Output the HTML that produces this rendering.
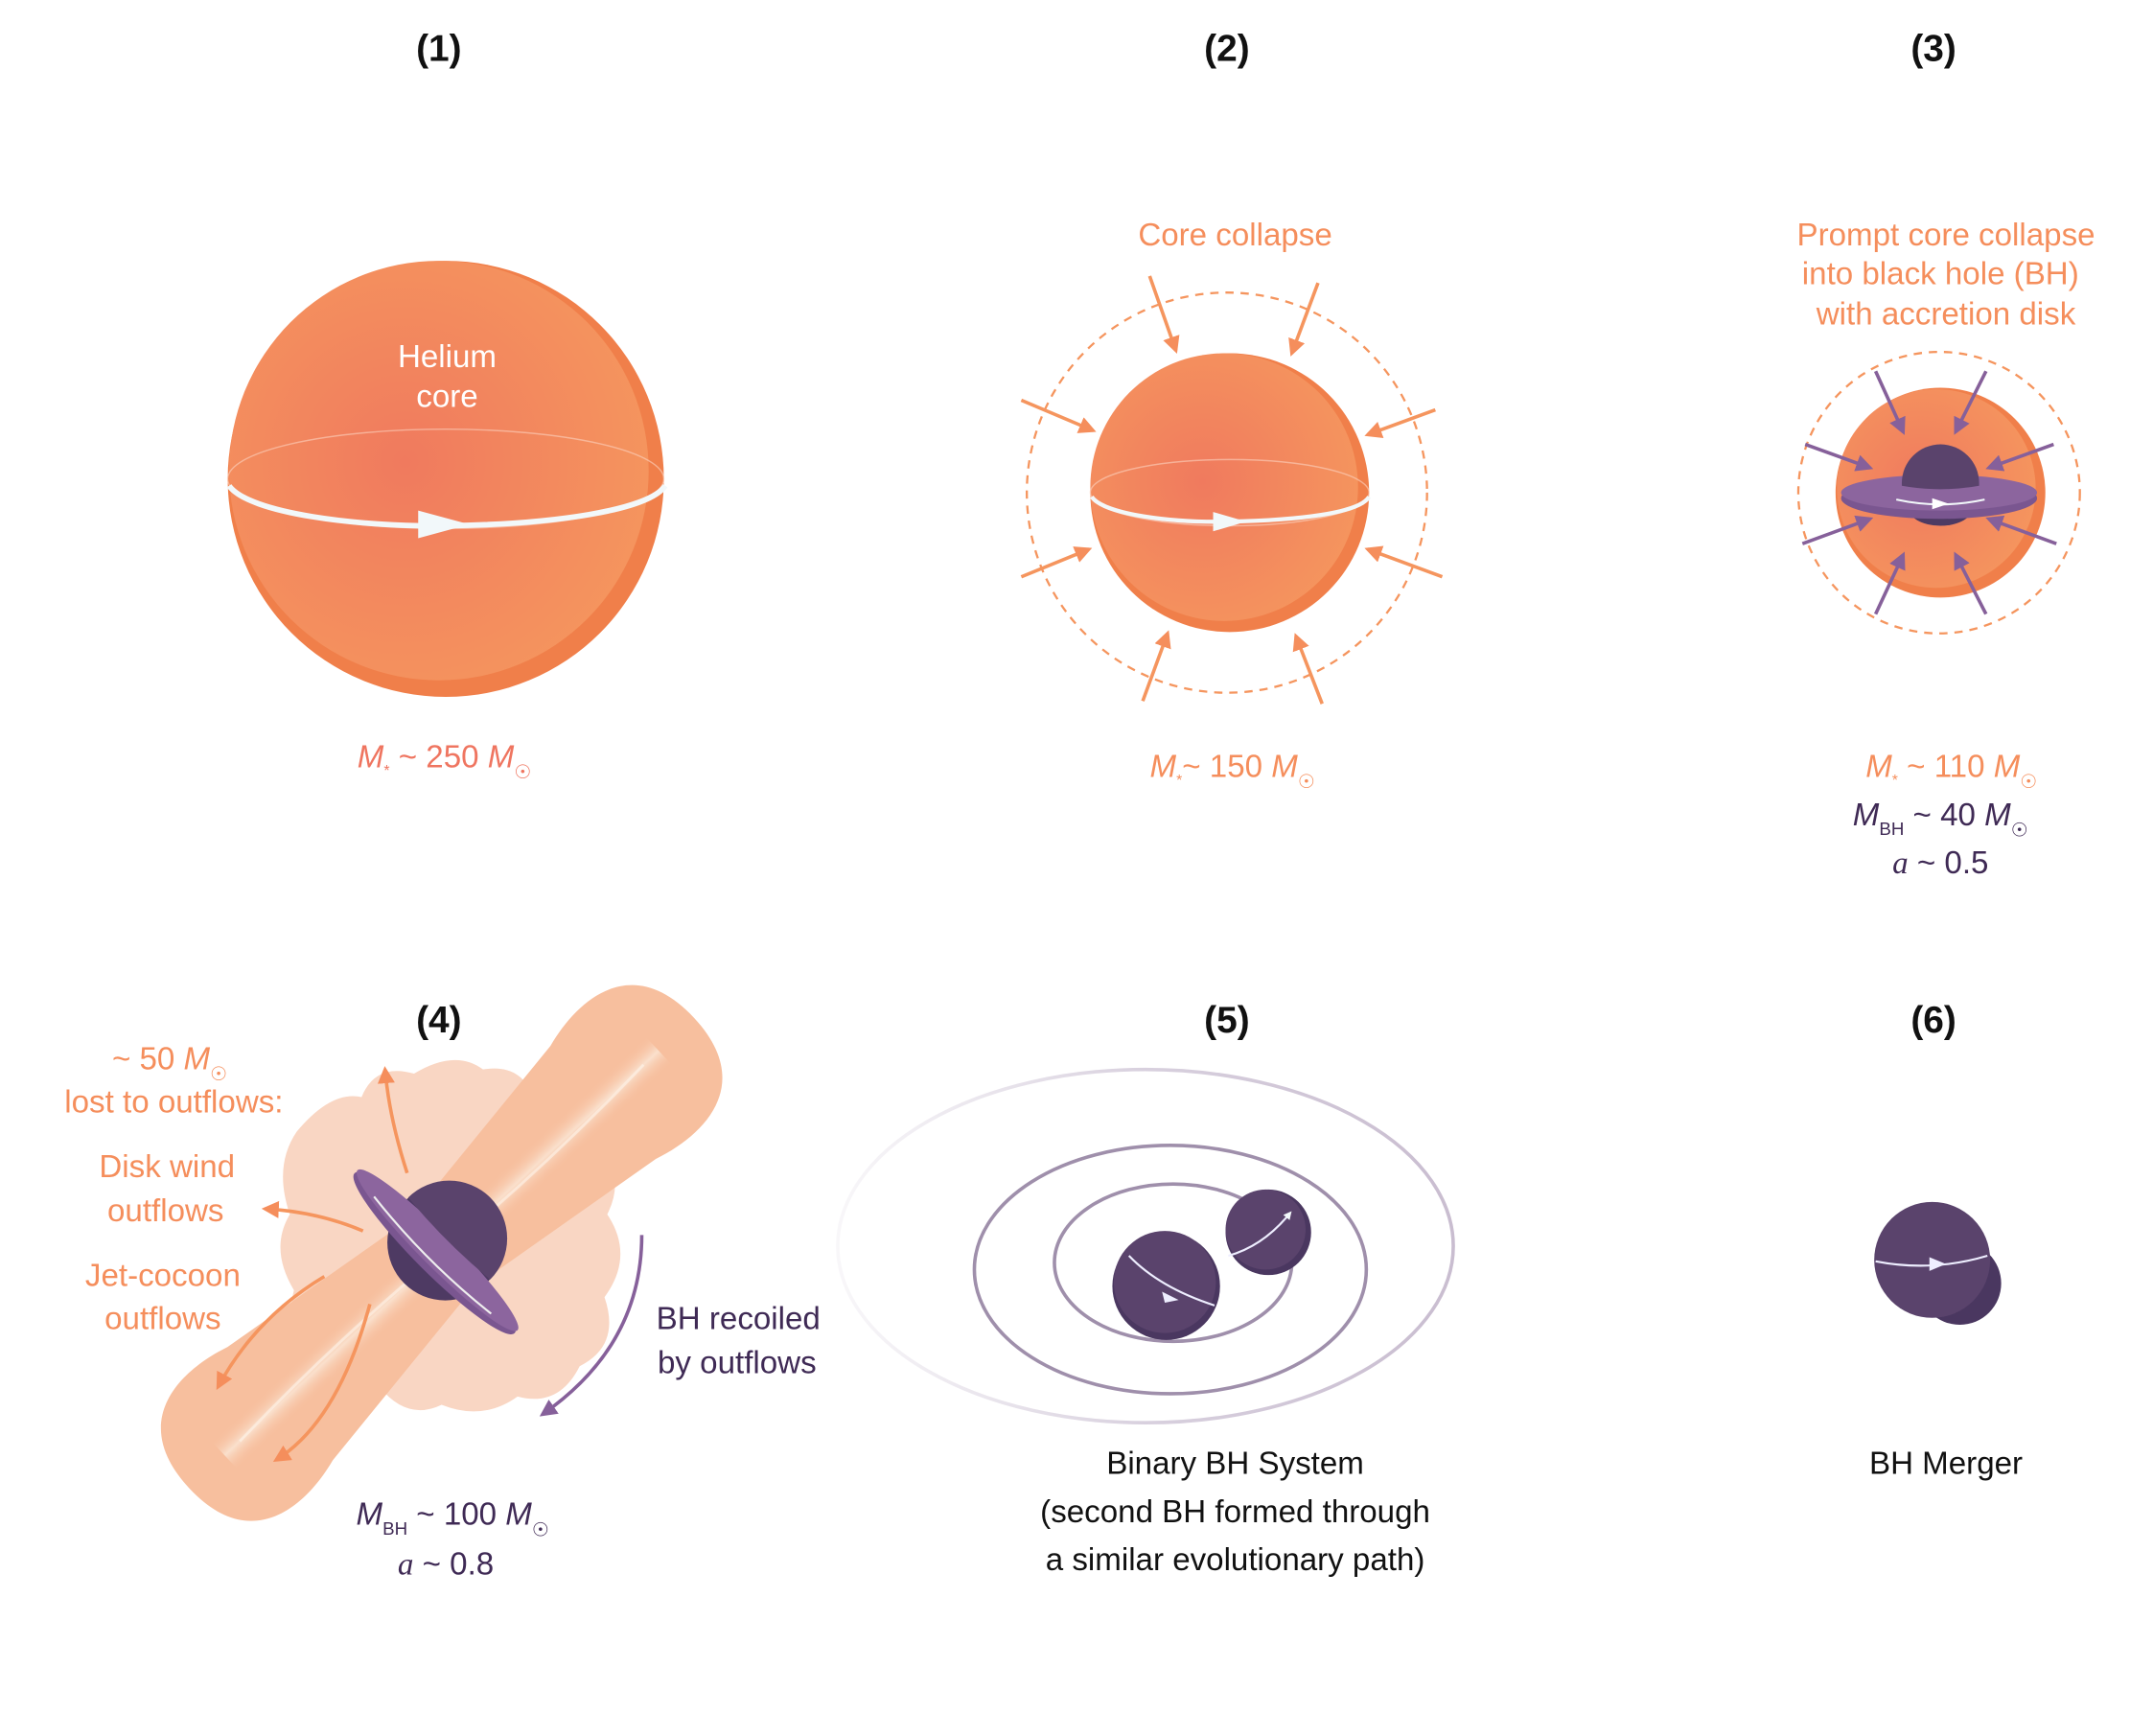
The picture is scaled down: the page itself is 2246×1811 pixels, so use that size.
<!DOCTYPE html>
<html><head><meta charset="utf-8"><style>
html,body{margin:0;padding:0;background:#fff;}
svg{display:block;}
text{font-family:"Liberation Sans",sans-serif;}
</style></head><body>
<svg width="2246" height="1811" viewBox="0 0 1560 1258" preserveAspectRatio="none" xmlns="http://www.w3.org/2000/svg">
<defs>
<radialGradient id="sg" cx="0.42" cy="0.48" r="0.6">
<stop offset="0" stop-color="#f07a5e"/><stop offset="1" stop-color="#f5955e"/></radialGradient>
<marker id="ao" viewBox="0 0 10 10" refX="8" refY="5" markerWidth="5" markerHeight="5" orient="auto"><path d="M0,0L10,5L0,10z" fill="#f58e5c"/></marker>
<marker id="ap" viewBox="0 0 10 10" refX="8" refY="5" markerWidth="5" markerHeight="5" orient="auto"><path d="M0,0L10,5L0,10z" fill="#86609a"/></marker>
<marker id="aw" viewBox="0 0 10 10" refX="5" refY="5" markerWidth="4" markerHeight="4" orient="auto"><path d="M0,0L10,5L0,10z" fill="#f2f8fa"/></marker>
<linearGradient id="og" x1="0" y1="0" x2="1" y2="0"><stop offset="0" stop-color="#ddd6e2" stop-opacity="0.2"/><stop offset="0.5" stop-color="#d8d0de"/><stop offset="1" stop-color="#c9bdd0"/></linearGradient>
<linearGradient id="jg" x1="0" y1="0" x2="0" y2="1"><stop offset="0" stop-color="#f7bf9e" stop-opacity="0"/><stop offset="0.5" stop-color="#fbeee0"/><stop offset="1" stop-color="#f7bf9e" stop-opacity="0"/></linearGradient>
</defs>

<g font-weight="bold" font-size="27" text-anchor="middle" fill="#111">
<text x="318" y="44">(1)</text><text x="889" y="44">(2)</text><text x="1401" y="44">(3)</text>
<text x="318" y="748">(4)</text><text x="889" y="748">(5)</text><text x="1401" y="748">(6)</text>
</g>

<!-- (1) -->
<circle cx="323" cy="347" r="158" fill="#f07f4a"/>
<circle cx="318" cy="341" r="152" fill="url(#sg)"/>
<ellipse cx="323" cy="347" rx="158" ry="36" fill="none" stroke="#fbd2c0" stroke-width="1" opacity="0.6"/>
<path d="M166,352 C180,372 260,382 323,381 C400,380 470,370 482,352" fill="none" stroke="#f2f8fa" stroke-width="4"/>
<path d="M303,370 L340,380 L303,390z" fill="#f2f8fa"/>
<text x="324" y="266" font-size="23" fill="#fff" text-anchor="middle">Helium</text>
<text x="324" y="295" font-size="23" fill="#fff" text-anchor="middle">core</text>
<text x="322" y="556" font-size="23" fill="#ef7560" text-anchor="middle"><tspan font-style="italic">M</tspan><tspan font-size="11" dy="6">*</tspan><tspan dy="-6"> ~ 250 </tspan><tspan font-style="italic">M</tspan><tspan font-size="14" dy="8">☉</tspan></text>

<!-- (2) -->
<circle cx="889" cy="357" r="145" fill="none" stroke="#f5955e" stroke-width="1.6" stroke-dasharray="6,5"/>
<circle cx="891" cy="357" r="101" fill="#f07f4a"/>
<circle cx="887" cy="353" r="97" fill="url(#sg)"/>
<ellipse cx="891" cy="357" rx="101" ry="24" fill="none" stroke="#fbd2c0" stroke-width="1" opacity="0.6"/>
<path d="M791,360 C800,373 850,379 891,378 C940,377 985,372 992,360" fill="none" stroke="#f2f8fa" stroke-width="3"/>
<path d="M879,371 L903,378 L879,385z" fill="#f2f8fa"/>
<g stroke="#f5955e" stroke-width="2.5" marker-end="url(#ao)" fill="none">
<line x1="833" y1="200" x2="852" y2="254"/><line x1="955" y1="205" x2="936" y2="256"/>
<line x1="740" y1="290" x2="792" y2="312"/><line x1="1040" y1="297" x2="991" y2="315"/>
<line x1="740" y1="418" x2="789" y2="398"/><line x1="1045" y1="418" x2="991" y2="398"/>
<line x1="828" y1="508" x2="846" y2="459"/><line x1="958" y1="510" x2="939" y2="461"/>
</g>
<text x="895" y="178" font-size="23" fill="#f58e5c" text-anchor="middle">Core collapse</text>
<text x="893" y="563" font-size="23" fill="#f58e5c" text-anchor="middle"><tspan font-style="italic">M</tspan><tspan font-size="11" dy="6">*</tspan><tspan dy="-6">~ 150 </tspan><tspan font-style="italic">M</tspan><tspan font-size="14" dy="8">☉</tspan></text>

<!-- (3) -->
<circle cx="1405" cy="357" r="102" fill="none" stroke="#f5955e" stroke-width="1.6" stroke-dasharray="6,5"/>
<circle cx="1406" cy="357" r="76" fill="#f07f4a"/>
<circle cx="1403" cy="354" r="72" fill="url(#sg)"/>
<ellipse cx="1406" cy="367" rx="24" ry="14" fill="#4e3a63"/>
<ellipse cx="1405" cy="361" rx="71" ry="15" fill="#7a5690"/>
<ellipse cx="1405" cy="357" rx="71" ry="13" fill="#8c659e"/>
<path d="M1378,350 A28,28 0 0 1 1434,350 L1434,352 Q1406,357 1378,352z" fill="#5a436c"/>
<path d="M1374,362 Q1406,369 1438,362" fill="none" stroke="#f2f8fa" stroke-width="1.5"/>
<path d="M1400,361 L1412,365 L1400,369z" fill="#fff"/>
<g stroke="#86609a" stroke-width="2.5" marker-end="url(#ap)" fill="none">
<line x1="1359" y1="269" x2="1379" y2="313"/><line x1="1439" y1="269" x2="1417" y2="313"/>
<line x1="1308" y1="322" x2="1355" y2="339"/><line x1="1488" y1="322" x2="1441" y2="339"/>
<line x1="1306" y1="394" x2="1355" y2="376"/><line x1="1490" y1="394" x2="1441" y2="376"/>
<line x1="1359" y1="445" x2="1379" y2="402"/><line x1="1439" y1="445" x2="1417" y2="402"/>
</g>
<g font-size="23" fill="#f58e5c" text-anchor="middle">
<text x="1410" y="178">Prompt core collapse</text><text x="1406" y="206">into black hole (BH)</text><text x="1410" y="235">with accretion disk</text>
<text x="1414" y="563"><tspan font-style="italic">M</tspan><tspan font-size="11" dy="6">*</tspan><tspan dy="-6"> ~ 110 </tspan><tspan font-style="italic">M</tspan><tspan font-size="14" dy="8">☉</tspan></text>
</g>
<g font-size="23" fill="#3f2a55" text-anchor="middle">
<text x="1406" y="598"><tspan font-style="italic">M</tspan><tspan font-size="13" dy="7">BH</tspan><tspan dy="-7"> ~ 40 </tspan><tspan font-style="italic">M</tspan><tspan font-size="14" dy="8">☉</tspan></text>
<text x="1406" y="633"><tspan font-style="italic" font-family="Liberation Serif">a</tspan> ~ 0.5</text>
</g>

<!-- (4) -->
<path d="M215,820 Q240,790 262,795 Q272,770 300,778 Q330,760 350,775 Q380,770 388,800 Q420,800 430,830 Q455,850 440,880 Q460,910 438,940 Q450,975 420,990 Q405,1020 375,1012 Q350,1030 320,1018 Q295,1030 275,1005 Q245,1005 235,980 Q205,965 213,935 Q195,905 210,880 Q198,845 215,820z" fill="#f9d6c3"/>
<g transform="translate(320,908) rotate(-43)">
<path d="M-250,0 C-250,-64 -200,-68 -160,-56 L0,-34 L160,-56 C200,-68 250,-64 250,0 C250,64 200,68 160,56 L0,34 L-160,56 C-200,68 -250,64 -250,0z" fill="#f7bf9e"/>
<rect x="-215" y="-14" width="430" height="28" fill="url(#jg)" opacity="0.7"/>
<path d="M-200,0 Q-100,-6 0,0 Q100,6 200,0" stroke="#fdf4ea" stroke-width="2" fill="none" opacity="0.6"/>
</g>
<g stroke="#f5955e" stroke-width="2.5" fill="none" marker-end="url(#ao)">
<path d="M295,850 Q282,810 279,775"/>
<path d="M263,892 Q230,878 192,876"/>
<path d="M235,925 Q185,955 158,1005"/>
<path d="M268,945 Q245,1030 200,1058"/>
</g>
<g transform="translate(317,906) rotate(45)">
<circle cx="0" cy="-8" r="42" fill="#4e3a63"/>
<ellipse cx="0" cy="3" rx="82" ry="14" fill="#7a5690"/>
<ellipse cx="0" cy="0" rx="82" ry="12" fill="#8c659e"/>
<path d="M-42,-6 A42,42 0 0 1 42,-6 Q0,-2 -42,-6Z" fill="#5a436c" transform="translate(0,-6)"/>
<path d="M-60,5 Q0,12 60,5" fill="none" stroke="#eee" stroke-width="1.5"/>
</g>
<path d="M465,895 Q465,975 393,1025" stroke="#86609a" stroke-width="2.5" fill="none" marker-end="url(#ap)"/>
<g font-size="23" fill="#f58e5c" text-anchor="middle">
<text x="123" y="775">~ 50 <tspan font-style="italic">M</tspan><tspan font-size="14" dy="8">☉</tspan></text>
<text x="126" y="806">lost to outflows:</text>
<text x="121" y="853">Disk wind</text><text x="120" y="885">outflows</text>
<text x="118" y="932">Jet-cocoon</text><text x="118" y="963">outflows</text>
</g>
<g font-size="23" fill="#3f2a55" text-anchor="middle">
<text x="535" y="963">BH recoiled</text><text x="534" y="995">by outflows</text>
<text x="328" y="1105"><tspan font-style="italic">M</tspan><tspan font-size="13" dy="7">BH</tspan><tspan dy="-7"> ~ 100 </tspan><tspan font-style="italic">M</tspan><tspan font-size="14" dy="8">☉</tspan></text>
<text x="323" y="1141"><tspan font-style="italic" font-family="Liberation Serif">a</tspan> ~ 0.8</text>
</g>

<!-- (5) -->
<ellipse cx="830" cy="903" rx="223" ry="128" fill="none" stroke="url(#og)" stroke-width="2.5"/>
<ellipse cx="848" cy="920" rx="142" ry="90" fill="none" stroke="#9f8fab" stroke-width="2.5"/>
<ellipse cx="850" cy="915" rx="86" ry="57" fill="none" stroke="#9f8fab" stroke-width="2.5"/>
<circle cx="919" cy="893" r="31" fill="#4a3760"/><circle cx="917" cy="891" r="29" fill="#5a436c"/>
<path d="M890,910 Q915,903 934,880" stroke="#eef" stroke-width="1.5" fill="none" marker-end="url(#aw)"/>
<circle cx="845" cy="932" r="39" fill="#4a3760"/><circle cx="844" cy="929" r="37" fill="#5a436c"/>
<path d="M818,910 Q840,933 880,946" stroke="#eef" stroke-width="1.5" fill="none"/>
<path d="M842,936 L854,942 L844,944z" fill="#eef"/>
<g font-size="23" fill="#111" text-anchor="middle">
<text x="895" y="1068">Binary BH System</text>
<text x="895" y="1103">(second BH formed through</text>
<text x="895" y="1138">a similar evolutionary path)</text>
<text x="1410" y="1068">BH Merger</text>
</g>

<!-- (6) -->
<circle cx="1420" cy="930" r="30" fill="#4a3760"/>
<circle cx="1400" cy="913" r="42" fill="#5a436c"/>
<path d="M1359,914 Q1400,922 1440,910" stroke="#eef" stroke-width="1.5" fill="none"/>
<path d="M1398,911 L1410,916 L1398,921z" fill="#eef"/>
</svg>
</body></html>
